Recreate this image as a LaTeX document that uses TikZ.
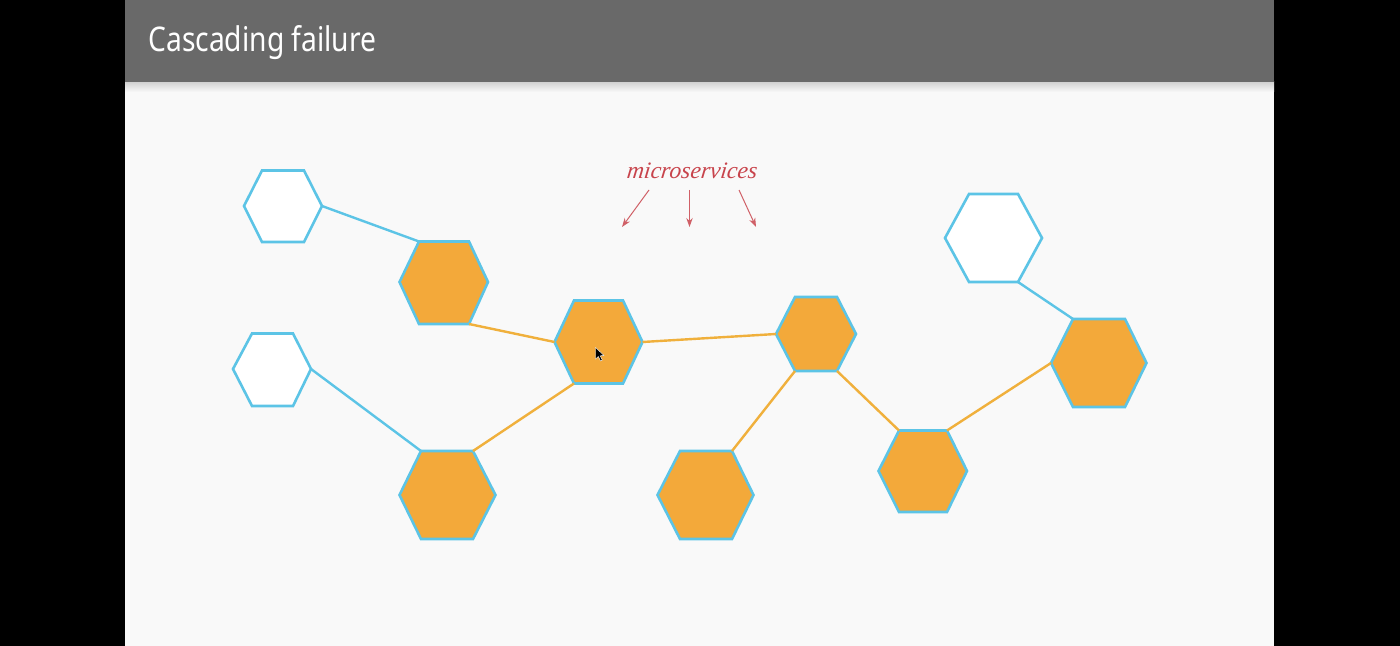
\documentclass[tikz,border=0pt]{standalone}
\usepackage{fontspec}
\setmainfont{Liberation Sans}
\newfontfamily\titlefont[FakeStretch=0.83]{Noto Sans}
\newfontfamily\notefont[FakeSlant=0.12]{Liberation Serif Italic}
\usetikzlibrary{arrows.meta}
\definecolor{hexblue}{HTML}{5CC4E6}
\definecolor{hexorange}{HTML}{F3A93A}
\definecolor{linkorange}{HTML}{F0B03C}
\definecolor{noteRed}{HTML}{C8444C}
\definecolor{headgray}{HTML}{696969}
\definecolor{pagebg}{HTML}{F9F9F9}
\tikzset{
  x=0.5pt,y=-0.5pt,
  whitehex/.style={draw=hexblue,fill=white,line width=1.3pt,line join=miter},
  orangehex/.style={draw=hexblue,fill=hexorange,line width=1.3pt,line join=miter},
  bluelink/.style={draw=hexblue,line width=1.2pt},
  orangelink/.style={draw=linkorange,line width=1.2pt},
  notearrow/.style={draw=noteRed!85,line width=0.5pt,-{Stealth[length=4.5pt,width=3.2pt]}},
}
% name, x-left, x-top-left, x-top-right, x-right, y-top, y-mid, y-bottom, style
\newcommand{\hexa}[9]{%
  \coordinate (#1-l) at (#2,#7);
  \coordinate (#1-tl) at (#3,#6);
  \coordinate (#1-tr) at (#4,#6);
  \coordinate (#1-r) at (#5,#7);
  \coordinate (#1-br) at (#4,#8);
  \coordinate (#1-bl) at (#3,#8);
  \draw[#9] (#1-l) -- (#1-tl) -- (#1-tr) -- (#1-r) -- (#1-br) -- (#1-bl) -- cycle;
}
\begin{document}
\begin{tikzpicture}
\useasboundingbox (0,0) rectangle (1400,646);
\fill[black] (0,0) rectangle (1400,646);
\fill[pagebg] (125,0) rectangle (1274,646);
\shade[top color=black!18,bottom color=pagebg] (125,82) rectangle (1274,92);
\fill[headgray] (125,0) rectangle (1274,82);
\node[anchor=base west,inner sep=0pt,text=white,font=\titlefont\fontsize{17}{20}\selectfont] (title) at (148,52) {Cascading failure};

\hexa{A}{244}{262}{304}{322}{170.5}{206}{242}{whitehex}
\hexa{B}{399.5}{419}{469}{488}{241.5}{282}{324}{orangehex}
\hexa{C}{554.5}{574}{623}{642.5}{300.5}{342}{383.5}{orangehex}
\hexa{D}{776}{795}{837}{856}{297}{334}{371}{orangehex}
\hexa{E}{945}{969}{1018}{1042}{194}{238}{282}{whitehex}
\hexa{F}{1051}{1073}{1125}{1146.5}{319}{363}{407}{orangehex}
\hexa{G}{233}{252}{293}{311}{333.5}{369}{406}{whitehex}
\hexa{H}{399.5}{421}{473}{495.5}{451}{495}{539}{orangehex}
\hexa{I}{657.5}{680}{732}{753.5}{451}{495}{539}{orangehex}
\hexa{J}{878.5}{899}{947}{967}{430.5}{471}{512}{orangehex}

\draw[bluelink] (A-r) -- (B-tl);
\draw[bluelink] (G-r) -- (H-tl);
\draw[bluelink] (E-br) -- (F-tl);
\draw[orangelink] (B-br) -- (C-l);
\draw[orangelink] (C-r) -- (D-l);
\draw[orangelink] (H-tr) -- (C-bl);
\draw[orangelink] (I-tr) -- (D-bl);
\draw[orangelink] (D-br) -- (J-tl);
\draw[orangelink] (J-tr) -- (F-l);

\node[inner sep=0pt,text=noteRed,font=\notefont\fontsize{11.8}{13}\selectfont] (note) at (691.5,171) {microservices};
\coordinate (n1s) at (649,190); \coordinate (n1e) at (622,227);
\coordinate (n2s) at (689.5,190); \coordinate (n2e) at (689.5,227);
\coordinate (n3s) at (739,190); \coordinate (n3e) at (756,227);
\draw[notearrow] (n1s) -- (n1e);
\draw[notearrow] (n2s) -- (n2e);
\draw[notearrow] (n3s) -- (n3e);

\fill[black,draw=white,line width=0.2pt] (595.5,347.5) -- (595.5,359) -- (598.3,356.5) -- (600.5,361) -- (602.3,360) -- (600.2,355.8) -- (604,355.5) -- cycle;
\end{tikzpicture}
\end{document}
